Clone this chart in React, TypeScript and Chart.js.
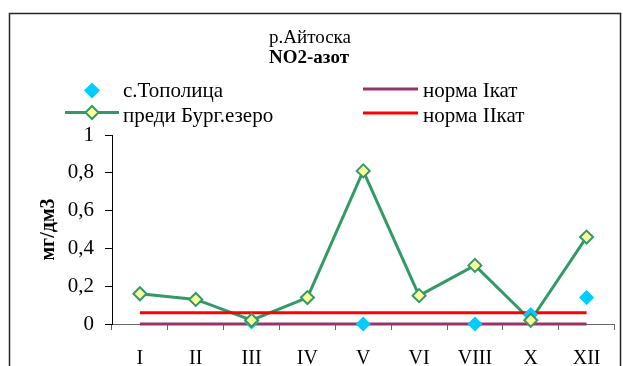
import React, { useEffect, useRef } from 'react';
import { Chart, registerables } from 'chart.js';

Chart.register(...registerables);

// ---- data ----
const categories = ['I', 'II', 'III', 'IV', 'V', 'VI', 'VIII', 'X', 'XII'];
const topolitsa: (number | null)[] = [null, null, 0.01, null, 0, null, 0, 0.05, 0.14];
const prediBurgEzero: number[] = [0.16, 0.13, 0.02, 0.14, 0.81, 0.15, 0.31, 0.02, 0.46];
const normaI: number[] = [0, 0, 0, 0, 0, 0, 0, 0, 0];
const normaII: number[] = [0.06, 0.06, 0.06, 0.06, 0.06, 0.06, 0.06, 0.06, 0.06];
const seriesNames = ['с.Тополица', 'преди Бург.езеро', 'норма Iкат', 'норма IIкат'];
const titleText = 'р.Айтоска';
const subtitleText = 'NO2-азот';
const yAxisTitle = 'мг/дм3';
const yMin = 0;
const yMax = 1;
const yStep = 0.2;

const SERIF = '"Liberation Serif", "Times New Roman", serif';
const CYAN = '#00CCFF';
const GREEN = '#339966';
const YELLOW = '#FFFF99';
const PURPLE = '#993366';
const RED = '#FF0000';

function fmt(v: number): string {
  if (Math.abs(v) < 1e-9) return '0';
  if (Math.abs(v - 1) < 1e-9) return '1';
  return v.toFixed(1).replace('.', ',');
}

function diamond(ctx: CanvasRenderingContext2D, x: number, y: number, r: number) {
  ctx.beginPath();
  ctx.moveTo(x - r, y);
  ctx.lineTo(x, y - r);
  ctx.lineTo(x + r, y);
  ctx.lineTo(x, y + r);
  ctx.closePath();
}

const decor = {
  id: 'decor',
  beforeDraw(chart: any) {
    const ctx: CanvasRenderingContext2D = chart.ctx;
    ctx.save();
    ctx.fillStyle = '#ffffff';
    ctx.fillRect(0, 0, chart.width, chart.height);
    ctx.strokeStyle = '#262626';
    ctx.lineWidth = 1.5;
    ctx.strokeRect(9.5, 13.5, 611, 400);
    ctx.restore();
  },
  afterDraw(chart: any) {
    const ctx: CanvasRenderingContext2D = chart.ctx;
    ctx.save();
    ctx.fillStyle = '#000';
    ctx.textBaseline = 'alphabetic';
    ctx.textAlign = 'center';
    ctx.font = `19px ${SERIF}`;
    ctx.fillText(titleText, 310, 43);
    ctx.font = `bold 19px ${SERIF}`;
    ctx.fillText(subtitleText, 309, 63);

    // legend
    ctx.textAlign = 'left';
    ctx.font = `21px ${SERIF}`;
    // с.Тополица
    ctx.fillStyle = CYAN;
    diamond(ctx, 92, 90.5, 8);
    ctx.fill();
    ctx.fillStyle = '#000';
    ctx.fillText(seriesNames[0], 123, 97);
    // преди Бург.езеро
    ctx.strokeStyle = GREEN;
    ctx.lineWidth = 3;
    ctx.beginPath();
    ctx.moveTo(65, 112.5);
    ctx.lineTo(119, 112.5);
    ctx.stroke();
    ctx.fillStyle = YELLOW;
    ctx.lineWidth = 2;
    diamond(ctx, 92, 112.5, 6.5);
    ctx.fill();
    ctx.stroke();
    ctx.fillStyle = '#000';
    ctx.fillText(seriesNames[1], 123, 122);
    // норма Iкат
    ctx.lineWidth = 3;
    ctx.strokeStyle = PURPLE;
    ctx.beginPath();
    ctx.moveTo(363, 89);
    ctx.lineTo(418, 89);
    ctx.stroke();
    ctx.fillText(seriesNames[2], 423, 97);
    // норма IIкат
    ctx.strokeStyle = RED;
    ctx.beginPath();
    ctx.moveTo(363, 113);
    ctx.lineTo(418, 113);
    ctx.stroke();
    ctx.fillText(seriesNames[3], 423, 122);
    ctx.restore();
  },
};

export default function App() {
  const ref = useRef<HTMLCanvasElement | null>(null);

  useEffect(() => {
    if (!ref.current) return;
    const chart = new Chart(ref.current, {
      type: 'line',
      data: {
        labels: categories,
        datasets: [
          {
            label: seriesNames[0],
            data: topolitsa,
            showLine: false,
            pointStyle: 'rectRot',
            pointRadius: 7.5,
            pointBackgroundColor: CYAN,
            pointBorderColor: CYAN,
            pointBorderWidth: 0,
            borderColor: CYAN,
            backgroundColor: CYAN,
            order: 2,
            clip: false,
          },
          {
            label: seriesNames[1] + ' line',
            data: prediBurgEzero,
            borderColor: GREEN,
            borderWidth: 3,
            pointRadius: 0,
            tension: 0,
            order: 4,
            clip: false,
          },
          {
            label: seriesNames[1],
            data: prediBurgEzero,
            showLine: false,
            pointStyle: 'rectRot',
            pointRadius: 6.5,
            pointBackgroundColor: YELLOW,
            pointBorderColor: GREEN,
            pointBorderWidth: 2,
            borderColor: GREEN,
            backgroundColor: YELLOW,
            order: 1,
            clip: false,
          },
          {
            label: seriesNames[2],
            data: normaI,
            borderColor: PURPLE,
            borderWidth: 3,
            pointRadius: 0,
            order: 5,
            clip: false,
          },
          {
            label: seriesNames[3],
            data: normaII,
            borderColor: RED,
            borderWidth: 3,
            pointRadius: 0,
            order: 3,
            clip: false,
          },
        ] as any,
      },
      options: {
        animation: false,
        responsive: false,
        maintainAspectRatio: false,
        events: [],
        layout: { padding: { top: 135, right: 8, left: 0, bottom: 0 } },
        plugins: {
          legend: { display: false },
          title: { display: false },
          tooltip: { enabled: false },
        },
        scales: {
          x: {
            offset: true,
            afterFit: (s: any) => {
              s.height = 42;
            },
            grid: {
              offset: true,
              drawOnChartArea: false,
              drawTicks: true,
              tickLength: 6,
              tickColor: '#666666',
              lineWidth: 1,
            },
            border: { display: true, color: '#666666', width: 1 },
            ticks: {
              color: '#000',
              font: { family: SERIF, size: 20 },
              padding: 17,
              maxRotation: 0,
              autoSkip: false,
            },
          },
          y: {
            min: yMin,
            max: yMax,
            afterFit: (s: any) => {
              s.width = 112;
            },
            grid: {
              drawOnChartArea: false,
              drawTicks: true,
              tickLength: 7,
              tickColor: '#000',
            },
            border: { display: true, color: '#000', width: 1 },
            ticks: {
              stepSize: yStep,
              color: '#000',
              font: { family: SERIF, size: 21 },
              padding: 11,
              callback: (v: any) => fmt(Number(v)),
            },
            title: {
              display: true,
              text: yAxisTitle,
              color: '#000',
              font: { family: SERIF, size: 20, weight: 'bold' },
              padding: { top: 37, bottom: 0 },
            },
          },
        },
      },
      plugins: [decor],
    });
    return () => chart.destroy();
  }, []);

  return (
    <div style={{ position: 'absolute', left: 0, top: 0, width: 623, height: 366 }}>
      <canvas ref={ref} width={623} height={366} style={{ width: 623, height: 366, display: 'block' }} />
    </div>
  );
}
